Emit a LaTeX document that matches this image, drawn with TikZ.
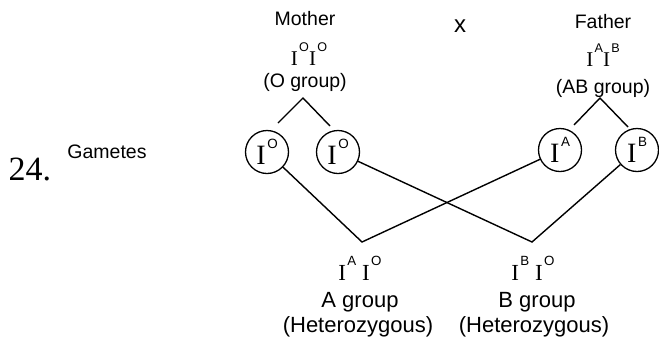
\documentclass[tikz,border=0pt]{standalone}
\usepackage{fontspec}
\setmainfont{Liberation Sans}
\newfontfamily\tnr{Liberation Serif}
% \gene[raise][scale]{superscript}
\newcommand\gene[3]{{\tnr I}\hspace{0.06em}\raisebox{#1}{\scalebox{#2}{#3}}}
\begin{document}
\begin{tikzpicture}[x=1pt,y=-1pt,
  lbl/.style={anchor=base,inner sep=0pt,font=\fontsize{19.5}{20}\selectfont},
  blbl/.style={anchor=base,inner sep=0pt,font=\fontsize{22}{23}\selectfont},
  geno/.style={anchor=base,inner sep=0pt},
  gam/.style={draw,circle,line width=1.3pt,minimum size=43pt,inner sep=0pt,font=\fontsize{28}{28}\selectfont},
  conn/.style={line width=1.4pt}]
\useasboundingbox (0,0) rectangle (659,338);
% top labels
\node[lbl] (mother) at (305,25) {Mother};
\node[lbl] (father) at (603,28) {Father};
\node[anchor=center,inner sep=0pt,font=\fontsize{24}{24}\selectfont] (cross) at (460,26) {x};
\node[geno,font=\fontsize{21}{21}\selectfont] (mgen) at (309,65) {\gene{0.62em}{0.6}{O}\gene{0.62em}{0.6}{O}};
\node[geno,font=\fontsize{21}{21}\selectfont] (fgen) at (603,66) {\gene{0.62em}{0.6}{A}\gene{0.62em}{0.6}{B}};
\node[lbl] (mgrp) at (305,87) {(O group)};
\node[lbl] (fgrp) at (603,93) {(AB group)};
% side labels
\node[anchor=base,inner sep=0pt,font=\fontsize{34}{34}\selectfont\tnr] (num) at (30,180) {24.};
\node[lbl] (gametes) at (107,158) {Gametes};
% gametes
\node[gam] (g1) at (267,152) {\gene{0.58em}{0.48}{O}};
\node[gam] (g2) at (338,152) {\gene{0.58em}{0.48}{O}};
\node[gam] (g3) at (560,150) {\gene{0.58em}{0.48}{A}};
\node[gam] (g4) at (637,150) {\gene{0.58em}{0.48}{B}};
% tree coordinates
\coordinate (ma) at (303,98);
\coordinate (m1) at (278,123);
\coordinate (m2) at (330,126);
\coordinate (fa) at (600,98);
\coordinate (f1) at (574,125);
\coordinate (f2) at (628,127);
\coordinate (va) at (362,242);
\coordinate (vb) at (532,242);
\draw[conn] (m1) -- (ma) -- (m2);
\draw[conn] (f1) -- (fa) -- (f2);
\draw[conn] (g1) -- (va) -- (g3);
\draw[conn] (g2) -- (vb) -- (g4);
% offspring
\node[geno,font=\fontsize{23}{23}\selectfont] (o1) at (360,280) {\gene{0.62em}{0.58}{A}\hspace{0.25em}\gene{0.62em}{0.58}{O}};
\node[geno,font=\fontsize{23}{23}\selectfont] (o2) at (533,280) {\gene{0.62em}{0.58}{B}\hspace{0.25em}\gene{0.62em}{0.58}{O}};
\node[blbl] (a1) at (360,307) {A group};
\node[blbl] (b1) at (537,307) {B group};
\node[blbl] (h1) at (358,332) {(Heterozygous)};
\node[blbl] (h2) at (534,332) {(Heterozygous)};
\end{tikzpicture}
\end{document}
